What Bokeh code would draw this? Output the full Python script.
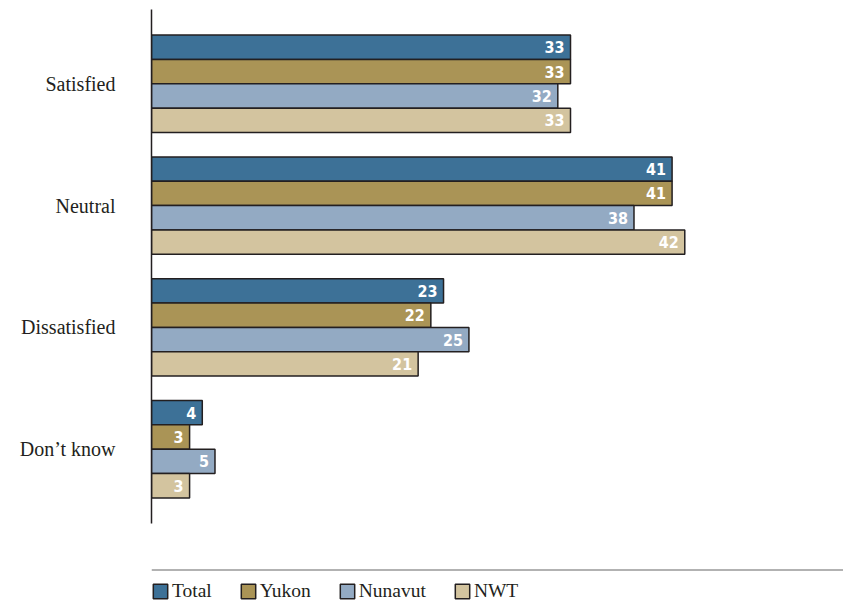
from bokeh.plotting import figure
from bokeh.models import (ColumnDataSource, FactorRange, Range1d, Legend, LegendItem, Span)
from bokeh.transform import dodge
from bokeh.core.properties import value
from bokeh.layouts import column
from bokeh.embed import file_html
from bokeh.resources import INLINE

# ---- data ----
categories = ["Satisfied", "Neutral", "Dissatisfied", "Don\u2019t know"]
series_names = ["Total", "Yukon", "Nunavut", "NWT"]
total = [33, 41, 23, 4]
yukon = [33, 41, 22, 3]
nunavut = [32, 38, 25, 5]
nwt = [33, 42, 21, 3]

colors = ["#3d7197", "#aa9456", "#93aac3", "#d3c49f"]
offsets = [0.3, 0.1, -0.1, -0.3]
outline = "#231f20"

src = ColumnDataSource(data=dict(
    cat=categories,
    Total=total, Yukon=yukon, Nunavut=nunavut, NWT=nwt,
    Total_lbl=[str(v) for v in total],
    Yukon_lbl=[str(v) for v in yukon],
    Nunavut_lbl=[str(v) for v in nunavut],
    NWT_lbl=[str(v) for v in nwt],
))

yr = FactorRange(factors=categories[::-1], range_padding=0.055, range_padding_units="percent")

p = figure(width=843, height=530, y_range=yr, x_range=Range1d(0, 54.5),
           output_backend="svg", toolbar_location=None, x_axis_location=None,
           min_border_left=151, min_border_right=0, min_border_top=9, min_border_bottom=7)
p.outline_line_color = None
p.grid.visible = False
p.background_fill_color = "white"
p.border_fill_color = "white"

ya = p.yaxis[0]
ya.major_tick_line_color = None
ya.minor_tick_line_color = None
ya.major_tick_out = 0
ya.major_tick_in = 0
ya.axis_line_color = outline
ya.axis_line_width = 1.5
ya.major_label_standoff = 36
ya.major_label_text_font = "Liberation Serif"
ya.major_label_text_font_size = "20px"
ya.major_label_text_color = "#231f20"

for name, col, off in zip(series_names, colors, offsets):
    p.hbar(y=dodge("cat", off, range=p.y_range), left=0, right=name, height=0.2,
           source=src, fill_color=col, line_color=outline, line_width=1.5)
    p.text(x=name, y=dodge("cat", off, range=p.y_range), text=name + "_lbl", source=src,
           x_offset=-6, text_align="right", text_baseline="middle",
           text_color="white", text_font=value("DejaVu Sans Condensed"),
           text_font_style="bold", text_font_size="16px")

# ---- legend strip ----
p2 = figure(width=843, height=73, x_range=Range1d(0, 1), y_range=Range1d(0, 1),
            output_backend="svg", toolbar_location=None,
            x_axis_location=None, y_axis_location=None,
            min_border_left=151, min_border_right=0, min_border_top=39, min_border_bottom=0)
p2.outline_line_color = None
p2.grid.visible = False
p2.background_fill_color = "white"
p2.border_fill_color = "white"
p2.add_layout(Span(location=1, dimension="width", line_color="#666666", line_width=2))

items = []
for name, col in zip(series_names, colors):
    # legend-only swatch (hidden renderer)
    r = p2.hbar(y=[0.5], right=[1], left=0, height=0.5, fill_color=col,
                line_color=outline, line_width=1.5)
    r.visible = False
    items.append(LegendItem(label=name, renderers=[r]))

leg = Legend(items=items, orientation="horizontal", location=(0, 1),
             padding=0, margin=0, spacing=27, glyph_width=18, glyph_height=18,
             label_standoff=3, label_text_font="Liberation Serif",
             label_text_font_size="19.5px", label_text_color="#231f20",
             background_fill_alpha=0, border_line_color=None)
p2.add_layout(leg)

layout = column(p, p2, spacing=0)
open("out.html", "w").write(file_html(layout, INLINE))
